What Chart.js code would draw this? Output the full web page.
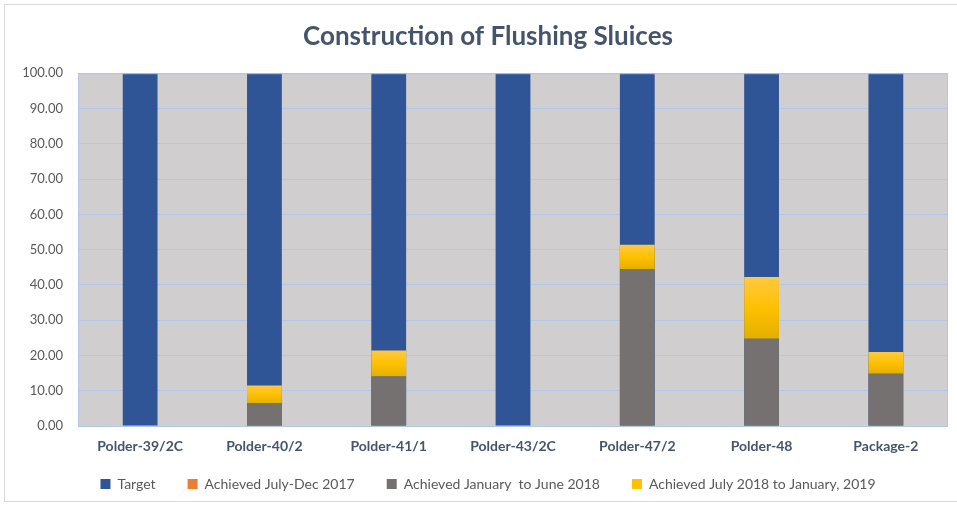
<!DOCTYPE html>
<html>
<head>
<meta charset="utf-8">
<script src="https://cdn.jsdelivr.net/npm/chart.js@4.4.1/dist/chart.umd.min.js"></script>
<style>
  html, body { margin: 0; padding: 0; background: #fff; overflow: hidden; }
  #wrap { position: absolute; left: 4px; top: 4px; width: 968px; height: 498px; border: 1px solid #d9d9d9; box-sizing: border-box; }
  canvas { display: block; }
</style>
</head>
<body>
<div id="wrap"><canvas id="chart"></canvas></div>
<script>
// Data
const categories = ['Polder-39/2C', 'Polder-40/2', 'Polder-41/1', 'Polder-43/2C', 'Polder-47/2', 'Polder-48', 'Package-2'];
const target = [100, 100, 100, 100, 100, 100, 100];
const julDec2017 = [0, 0, 0, 0, 0, 0, 0];
const janJun2018 = [0, 6.5, 14.0, 0, 44.4, 24.7, 14.8];
const jul2018Jan2019 = [0, 5.0, 7.4, 0, 7.0, 17.5, 6.2];
const yTicks = [0, 10, 20, 30, 40, 50, 60, 70, 80, 90, 100];

// plot background + frame
const plotFrame = {
  id: 'plotFrame',
  afterLayout(chart) {
    // let the category labels spill into the legend gap without being clipped
    const x = chart.scales.x;
    x.bottom = x.top + 34;
  },
  beforeDraw(chart) {
    const { ctx, chartArea: a } = chart;
    ctx.save();
    ctx.fillStyle = '#d0cece';
    ctx.fillRect(a.left, a.top, a.right - a.left, a.bottom - a.top);
    ctx.restore();
  },
  afterDatasetsDraw(chart) {
    const { ctx, chartArea: a } = chart;
    ctx.save();
    ctx.strokeStyle = '#b4c7e7';
    ctx.lineWidth = 1;
    ctx.strokeRect(a.left + 0.5, a.top + 0.5, a.right - a.left - 1, a.bottom - a.top);
    ctx.restore();
  }
};

function yellowFill(context) {
  const chart = context.chart;
  const y = chart.scales && chart.scales.y;
  const i = context.dataIndex;
  if (!y || i === undefined) return '#ffc000';
  const base = janJun2018[i];
  const top = base + jul2018Jan2019[i];
  const y0 = y.getPixelForValue(top), y1 = y.getPixelForValue(base);
  if (!isFinite(y0) || !isFinite(y1) || y0 === y1) return '#ffc000';
  const g = chart.ctx.createLinearGradient(0, y0, 0, y1);
  g.addColorStop(0, '#ffc940');
  g.addColorStop(0.5, '#ffc000');
  g.addColorStop(1, '#e2b000');
  return g;
}

const barOpts = { barPercentage: 0.28, categoryPercentage: 1, grouped: false, borderWidth: 0 };

new Chart(document.getElementById('chart'), {
  type: 'bar',
  data: {
    labels: categories,
    datasets: [
      Object.assign({ label: 'Target', data: target, backgroundColor: '#2f5597', stack: 't', order: 1 }, barOpts),
      Object.assign({ label: 'Achieved July-Dec 2017', data: julDec2017, backgroundColor: '#ed7d31', stack: 'a', order: 0 }, barOpts),
      Object.assign({ label: 'Achieved January  to June 2018', data: janJun2018, backgroundColor: '#767171', stack: 'a', order: 0 }, barOpts),
      Object.assign({ label: 'Achieved July 2018 to January, 2019', data: jul2018Jan2019, backgroundColor: yellowFill, stack: 'a', order: 0 }, barOpts)
    ]
  },
  options: {
    responsive: true,
    maintainAspectRatio: false,
    animation: false,
    layout: { padding: { top: 8, right: 0, bottom: 6, left: 0 } },
    plugins: {
      title: {
        display: true,
        text: 'Construction of Flushing Sluices',
        color: '#44546a',
        font: { family: 'Lato', size: 26, weight: 'bold' },
        padding: { top: 8, bottom: 21 }
      },
      legend: {
        position: 'bottom',
        maxHeight: 50,
        labels: {
          color: '#595959',
          font: { family: 'Lato', size: 14 },
          boxWidth: 10,
          boxHeight: 10,
          padding: 32,
          generateLabels(chart) {
            const colors = ['#2f5597', '#ed7d31', '#767171', '#ffc000'];
            return chart.data.datasets.map((ds, i) => ({
              text: ds.label, fillStyle: colors[i], strokeStyle: colors[i], lineWidth: 0,
              datasetIndex: i, hidden: false, fontColor: '#595959'
            }));
          }
        }
      },
      tooltip: { enabled: false }
    },
    scales: {
      x: {
        stacked: true,
        grid: { display: false },
        border: { display: false },
        afterFit: axis => { axis.height = 19; },
        ticks: { color: '#44546a', font: { family: 'Lato', size: 14, weight: 'bold' }, padding: 4 }
      },
      y: {
        stacked: true,
        min: 0,
        max: 100,
        afterBuildTicks: axis => { axis.ticks = yTicks.map(v => ({ value: v })); },
        afterFit: axis => { axis.width = 73; },
        grid: { color: '#b4c7e7', lineWidth: 1, drawTicks: false },
        border: { display: false },
        ticks: {
          color: '#595959',
          font: { family: 'Lato', size: 13 },
          padding: 15,
          callback: v => Number(v).toFixed(2)
        }
      },
      // empty right-hand strip: the chart box runs past the picture's right edge
      yRight: {
        position: 'right',
        min: 0,
        max: 100,
        grid: { display: false },
        border: { display: false },
        ticks: { display: false },
        afterFit: axis => { axis.width = 23; }
      }
    }
  },
  plugins: [plotFrame]
});
</script>
</body>
</html>
